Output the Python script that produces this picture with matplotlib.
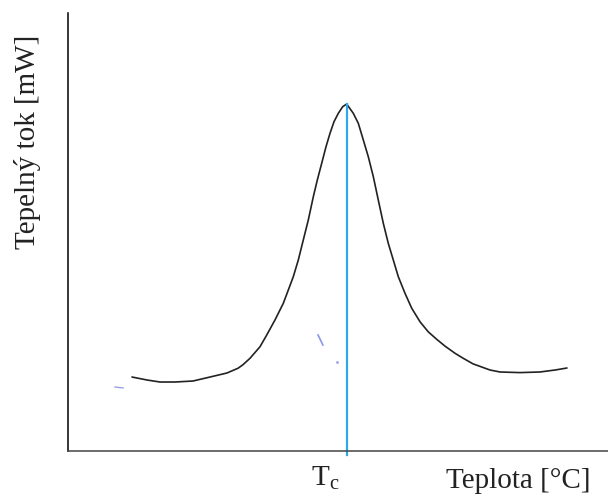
import matplotlib
matplotlib.use("Agg")
import matplotlib.pyplot as plt

plt.rcParams["font.family"] = ["Liberation Serif", "DejaVu Serif"]
plt.rcParams["mathtext.default"] = "regular"

# DSC curve (arbitrary temperature / heat-flow units)
temperature = [11.85, 14.63, 17.04, 19.8, 23.15, 26.3, 29.44, 31.5, 32.4,
               33.70, 35.56, 36.80, 38.33, 39.87, 40.80, 41.72, 42.65, 43.57,
               44.50, 45.43, 46.17, 46.98, 47.78, 48.52, 49.26, 50.06, 50.87,
               51.61, 52.83, 53.76, 54.69, 55.61, 56.54, 57.46, 58.39, 59.31,
               60.24, 61.17, 62.41, 63.65, 65.19, 66.72, 68.28, 69.81, 71.67,
               73.20, 75.0, 78.15, 80.0, 83.7, 87.4, 90.2, 92.4]
heat_flow = [16.89, 16.21, 15.75, 15.75, 15.98, 16.89, 17.81, 18.9, 19.7,
             21.16, 23.81, 26.48, 29.91, 33.72, 36.76, 39.79, 43.61, 48.17,
             52.74, 58.06, 61.87, 65.68, 69.48, 72.53, 75.18, 77.10, 78.61,
             79.22, 77.10, 74.82, 71.00, 67.19, 62.63, 57.31, 51.99, 47.42,
             43.61, 39.79, 36.00, 32.6, 29.5, 27.2, 25.5, 23.95, 22.31,
             21.16, 19.9, 18.49, 18.04, 17.9, 18.04, 18.49, 18.95]
t_c = 51.61
peak = 79.22

# small pen strokes
stroke_a_x, stroke_a_y = [8.7, 10.2], [14.6, 14.4]
stroke_b_x, stroke_b_y = [46.3, 47.2], [26.5, 24.2]
dot_x, dot_y = [49.8], [20.3]

fig = plt.figure(figsize=(6.08, 5.0), dpi=100)
ax = fig.add_axes([68 / 608, 49 / 500, 540 / 608, 438 / 500])
ax.set_xlim(0, 100)
ax.set_ylim(0, 100)

ax.plot(temperature, heat_flow, color="#222222", lw=1.2,
        solid_joinstyle="round", solid_capstyle="round")
ax.plot([t_c, t_c], [-1, peak], color="#2ea8e6", lw=1.6, clip_on=False)

ax.plot(stroke_a_x, stroke_a_y, color="#7f8ae8", lw=1.0, alpha=0.8)
ax.plot(stroke_b_x, stroke_b_y, color="#6f7ce6", lw=1.2, alpha=0.8)
ax.plot(dot_x, dot_y, "o", color="#8f98ea", ms=1.2, alpha=0.7)

for side in ("top", "right"):
    ax.spines[side].set_visible(False)
ax.spines["left"].set_color("black")
ax.spines["left"].set_linewidth(1.1)
ax.spines["bottom"].set_color("#444444")
ax.spines["bottom"].set_linewidth(1.1)
ax.set_xticks([])
ax.set_yticks([])

fig.text(28 / 608, 1 - 142 / 500, "Tepelný tok [mW]", rotation=90,
         ha="center", va="center", fontsize=21, color="#222222")
fig.text(518 / 608, 1 - 481 / 500, "Teplota [°C]",
         ha="center", va="center", fontsize=21, color="#222222")
fig.text(325 / 608, 1 - 478 / 500, "T$_c$",
         ha="center", va="center", fontsize=21, color="#222222")

fig.savefig("out.png", dpi=100)
